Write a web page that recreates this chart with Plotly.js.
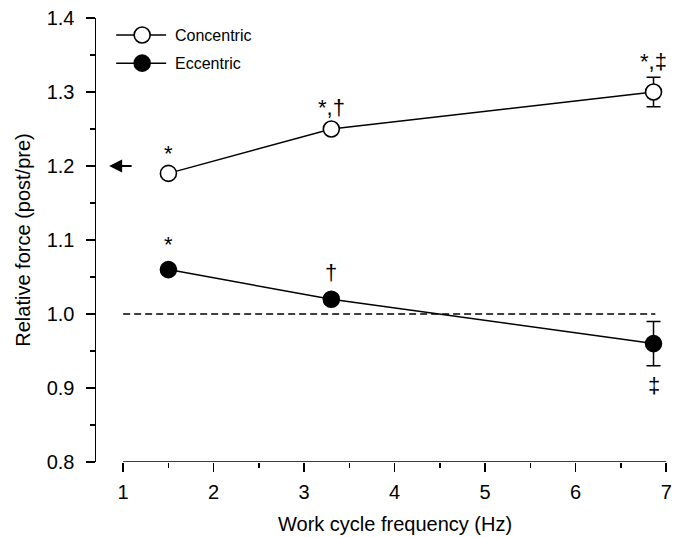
<!DOCTYPE html>
<html>
<head>
<meta charset="utf-8">
<script src="https://cdn.plot.ly/plotly-3.0.1.min.js"></script>
<style>html,body{margin:0;padding:0;background:#fff;}#chart{width:679px;height:537px;}</style>
</head>
<body>
<div id="chart"></div>
<script>
// Data
const freq = [1.5, 3.3, 6.86];
const concentric = [1.19, 1.25, 1.30];
const concentricErr = [0.005, 0.005, 0.02];
const eccentric = [1.06, 1.02, 0.96];
const eccentricErr = [0.006, 0.006, 0.03];
const concLabels = ['*', '*,\u2020', '*,\u2021'];
const eccLabels = ['*', '\u2020', '\u2021'];
const seriesNames = ['Concentric', 'Eccentric'];
const xTicks = [1, 2, 3, 4, 5, 6, 7];
const yTicks = [0.8, 0.9, 1.0, 1.1, 1.2, 1.3, 1.4];
const baseline = 1.0;
const preValue = 1.2;

const FONT = 'Liberation Sans, Arial, Helvetica, sans-serif';
const black = '#000';

const traces = [
  {
    x: freq, y: concentric, type: 'scatter', mode: 'lines+markers', name: seriesNames[0],
    line: {color: black, width: 1.5},
    marker: {symbol: 'circle', size: 16, color: '#fff', line: {color: black, width: 1.6}},
    error_y: {type: 'data', array: concentricErr, visible: true, color: black, thickness: 1.5, width: 7},
    showlegend: false, cliponaxis: false
  },
  {
    x: freq, y: eccentric, type: 'scatter', mode: 'lines+markers', name: seriesNames[1],
    line: {color: black, width: 1.5},
    marker: {symbol: 'circle', size: 16, color: black, line: {color: black, width: 1.6}},
    error_y: {type: 'data', array: eccentricErr, visible: true, color: black, thickness: 1.5, width: 7},
    showlegend: false, cliponaxis: false
  }
];

const annotations = [];
const concShift = [20, 22, 31];
const eccShift = [25, 27, -42];
freq.forEach((f, i) => {
  annotations.push({x: f, y: concentric[i], xref: 'x', yref: 'y', text: concLabels[i], showarrow: false,
    yshift: concShift[i], font: {family: FONT, size: 22, color: black}});
  annotations.push({x: f, y: eccentric[i], xref: 'x', yref: 'y', text: eccLabels[i], showarrow: false,
    yshift: eccShift[i], font: {family: FONT, size: 22, color: black}});
});
// arrow marking pre value
annotations.push({x: 0.845, y: preValue, ax: 1.11, ay: preValue, xref: 'x', yref: 'y', axref: 'x', ayref: 'y',
  text: '', showarrow: true, arrowhead: 2, arrowsize: 1.3, arrowwidth: 2, arrowcolor: black});
// x axis title centered on drawn axis
annotations.push({x: 4, y: 0, xref: 'x', yref: 'paper', yanchor: 'top', yshift: -49, text: 'Work cycle frequency (Hz)',
  showarrow: false, font: {family: FONT, size: 20, color: black}});
// legend text
const legY = [1.377, 1.339];
seriesNames.forEach((n, i) => {
  annotations.push({x: 1.55, y: legY[i], xref: 'x', yref: 'y', xanchor: 'left', text: n, showarrow: false,
    font: {family: FONT, size: 16, color: black}});
});

const shapes = [
  // x axis line (detached)
  {type: 'line', xref: 'x', yref: 'y', x0: xTicks[0], x1: xTicks[xTicks.length - 1], y0: yTicks[0], y1: yTicks[0],
    line: {color: black, width: 1.5}},
  // dashed reference line
  {type: 'line', xref: 'x', yref: 'y', x0: xTicks[0], x1: 6.88, y0: baseline, y1: baseline,
    line: {color: black, width: 1.5, dash: '7px,4px'}}
];
// legend symbols
legY.forEach((ly, i) => {
  shapes.push({type: 'line', xref: 'x', yref: 'y', x0: 0.923, x1: 1.475, y0: ly, y1: ly,
    line: {color: black, width: 1.5}});
  shapes.push({type: 'circle', xref: 'x', yref: 'y', xsizemode: 'pixel', ysizemode: 'pixel',
    xanchor: 1.21, yanchor: ly, x0: -8, x1: 8, y0: -8, y1: 8,
    fillcolor: i === 0 ? '#fff' : black, line: {color: black, width: 1.6}});
});

const layout = {
  width: 679, height: 537,
  margin: {l: 96, r: 11, t: 18, b: 75},
  paper_bgcolor: '#fff', plot_bgcolor: '#fff',
  font: {family: FONT, color: black},
  showlegend: false,
  xaxis: {
    range: [0.7, 7.02], tickvals: xTicks, ticktext: xTicks.map(String),
    showline: false, showgrid: false, zeroline: false,
    ticks: 'outside', ticklen: 9, tickwidth: 1.5, tickcolor: black,
    ticklabelstandoff: 3,
    minor: {tickvals: [1.5, 2.5, 3.5, 4.5, 5.5, 6.5], ticks: 'outside', ticklen: 5, tickwidth: 1.5, tickcolor: black},
    tickfont: {family: FONT, size: 20, color: black}
  },
  yaxis: {
    range: [0.8, 1.4], tickvals: yTicks, ticktext: yTicks.map(v => v.toFixed(1)),
    showline: true, linecolor: black, linewidth: 1.5, showgrid: false, zeroline: false,
    ticks: 'outside', ticklen: 9, tickwidth: 1.5, tickcolor: black,
    ticklabelstandoff: 7,
    minor: {tickvals: [0.85, 0.95, 1.05, 1.15, 1.25, 1.35], ticks: 'outside', ticklen: 5, tickwidth: 1.5, tickcolor: black},
    tickfont: {family: FONT, size: 20, color: black},
    title: {text: 'Relative force (post/pre)', font: {family: FONT, size: 20, color: black}, standoff: 10}
  },
  annotations: annotations,
  shapes: shapes
};

Plotly.newPlot('chart', traces, layout, {displayModeBar: false, staticPlot: true});
</script>
</body>
</html>
